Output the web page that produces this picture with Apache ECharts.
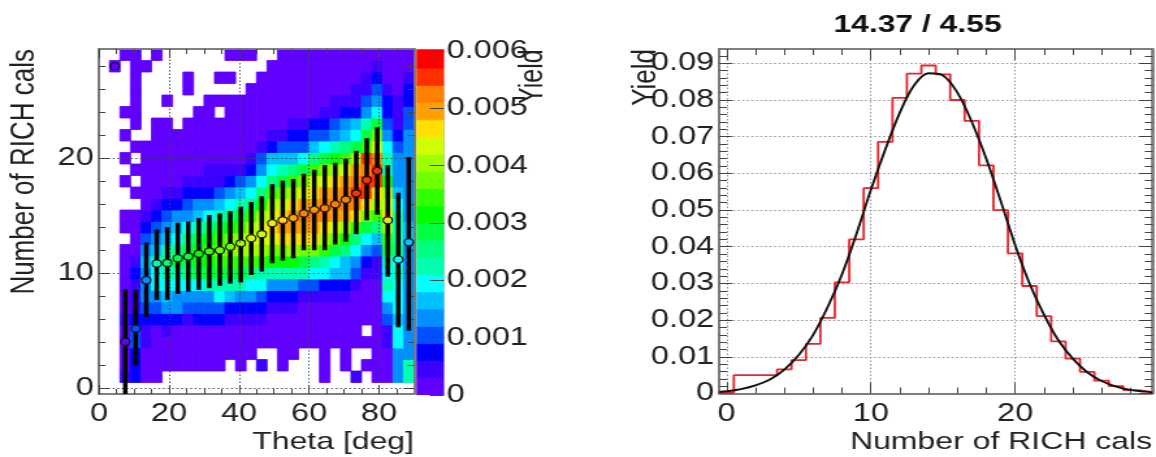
<!DOCTYPE html>
<html>
<head>
<meta charset="utf-8">
<style>
html,body{margin:0;padding:0;background:#fff;overflow:hidden;width:1156px;height:457px}
#c{width:889px;height:457px;transform-origin:0 0;transform:scaleX(1.30034);filter:blur(0.5px)}
</style>
<script src="https://cdn.jsdelivr.net/npm/echarts@6/dist/echarts.min.js"></script>
</head>
<body>
<div id="c"></div>
<script>
// ---------- data ----------
const palette=['#6000ff','#3c00ff','#0000ff','#0050ff','#0090ff','#00c0ff','#00ffff','#00ffb0','#00ff80','#00ff40',
 '#00ff00','#30ff00','#70ff00','#a0ff00','#d0ff00','#ffe000','#ffa000','#ff8000','#ff3000','#ff0000'];
const yieldStep=0.0003;
// colour levels of the 2D histogram: row index = RICH cals bin, column = Theta bin (0 = empty)
const levelRows=[
[0,0,0,0,0,0,0,0,0,0,0,0,0,0,0,0,0,0,0,0,0,0,0,0,0,0,0,0,0,0],
[0,0,2,3,1,1,0,0,0,0,0,0,0,0,0,0,0,0,0,0,0,1,0,0,2,0,1,1,5,8],
[0,0,1,3,1,1,1,1,1,1,1,1,0,1,0,2,0,1,0,0,0,1,0,1,0,1,1,1,5,8],
[0,0,1,3,1,1,1,1,1,1,1,1,1,1,1,0,0,1,1,0,0,1,0,1,0,0,1,1,5,5],
[0,0,1,4,2,1,1,1,1,1,1,1,1,1,1,1,1,1,1,1,1,1,1,1,1,1,1,2,7,5],
[0,0,1,4,2,1,2,1,1,1,1,1,1,1,1,1,1,1,1,1,1,1,1,1,1,0,1,2,7,5],
[0,0,2,3,3,3,3,3,2,3,3,3,2,2,2,2,1,1,1,1,1,1,1,1,1,1,1,4,6,5],
[0,0,1,2,4,4,5,5,4,4,4,4,3,3,3,3,2,2,2,1,1,1,1,1,1,1,1,5,7,5],
[0,0,1,2,5,5,6,5,5,5,5,7,6,5,5,4,3,3,3,2,2,2,2,2,1,1,1,7,7,5],
[0,0,1,2,5,7,7,7,7,7,8,8,8,8,7,7,5,5,5,4,4,3,3,3,2,1,1,8,7,5],
[0,0,1,3,5,7,8,8,9,10,10,10,10,10,9,8,8,8,8,8,7,7,6,6,4,2,2,7,8,5],
[0,0,1,2,6,8,9,10,10,11,11,12,12,12,12,12,11,11,11,10,9,8,7,6,5,3,2,8,7,5],
[0,0,1,1,5,6,8,9,10,11,12,13,13,14,14,14,13,13,14,13,13,12,10,9,7,5,4,10,9,5],
[0,0,0,1,4,5,6,7,9,10,11,12,13,14,15,15,15,16,16,16,16,14,13,11,9,7,6,12,8,6],
[0,0,1,1,3,4,5,6,7,8,9,10,11,12,14,15,16,17,17,17,17,16,15,14,12,10,9,14,8,6],
[0,0,1,1,2,3,4,5,5,6,7,8,9,10,12,14,15,16,17,18,18,18,17,17,16,13,12,16,8,5],
[0,0,0,0,1,2,3,3,4,5,5,6,7,8,9,11,14,15,16,17,17,18,18,18,18,16,14,15,7,5],
[0,0,0,1,1,1,2,2,3,3,3,4,5,6,7,9,12,13,14,15,16,17,17,18,19,19,16,14,6,5],
[0,0,1,0,1,1,1,1,2,2,2,2,3,4,5,7,9,10,12,13,15,15,16,17,18,19,19,11,5,5],
[0,0,0,1,1,1,1,1,1,1,2,2,2,2,3,5,7,8,9,10,12,13,14,15,17,18,19,8,5,5],
[0,0,1,0,1,1,1,1,1,1,1,1,1,1,2,4,6,6,6,7,9,10,11,12,14,19,18,8,5,5],
[0,0,0,1,1,1,1,1,1,1,1,1,1,1,1,2,3,4,4,4,6,7,8,9,10,12,15,7,4,5],
[0,0,1,0,0,1,1,1,1,1,1,1,1,1,1,1,2,2,3,3,4,4,5,6,7,10,13,5,3,5],
[0,0,0,1,0,1,1,0,1,1,1,1,1,1,1,1,1,1,2,2,3,3,4,5,6,8,10,4,2,4],
[0,0,1,1,0,0,0,0,0,1,1,0,1,1,1,1,1,1,1,1,1,2,2,3,3,5,7,3,2,4],
[0,0,0,1,0,0,1,0,0,0,1,1,1,1,1,1,1,1,1,1,1,1,2,2,2,4,5,3,2,3],
[0,0,0,1,0,0,0,0,1,0,0,0,0,0,1,1,1,1,1,1,1,1,1,1,2,2,4,2,1,3],
[0,0,0,1,0,0,0,0,1,0,0,1,1,0,0,1,1,1,1,1,1,1,1,1,1,2,3,1,1,2],
[0,1,0,1,1,0,0,0,0,0,0,0,0,0,0,0,1,1,1,1,1,1,1,1,1,1,2,1,1,1],
[0,0,1,1,0,1,0,0,0,0,0,0,1,1,1,0,0,1,1,1,1,1,1,1,1,1,1,1,1,1]
];
const thetaBinWidth=3;
// profile: mean and error bar ends, one entry per Theta bin
const profileTheta=[4.5,7.5,10.5,13.5,16.5,19.5,22.5,25.5,28.5,31.5,34.5,37.5,40.5,43.5,46.5,49.5,52.5,55.5,58.5,61.5,64.5,67.5,70.5,73.5,76.5,79.5,82.5,85.5,88.5];
const profileMean=[28,4.05,5.2,9.4,10.85,10.9,11.3,11.45,11.7,11.9,12.0,12.3,12.6,13.05,13.4,14.35,14.6,14.8,15.2,15.5,15.65,16.0,16.4,16.95,18.1,18.9,14.6,11.2,12.7];
const profileLow=[28,-0.5,2.0,6.2,7.67,7.67,8.2,8.4,8.55,8.7,8.9,9.1,9.2,9.85,10.15,10.87,11.1,11.3,12.0,12.0,12.0,12.5,12.75,13.4,14.6,15.1,9.7,5.3,5.0];
const profileHigh=[28,8.6,8.55,12.66,13.8,14.0,14.4,14.5,14.8,15.07,15.2,15.4,15.8,16.2,16.7,17.75,18.05,18.2,18.65,19.0,19.4,19.6,19.95,20.65,21.75,22.7,19.4,17,20.1];
// 1D histogram, bins centred on 0..29
const histYield=[0.0002,0.005,0.005,0.005,0.0066,0.0091,0.0135,0.0206,0.0303,0.042,0.056,0.0686,0.0806,0.0872,0.0894,0.087,0.08,0.0743,0.0622,0.05,0.0382,0.0293,0.0211,0.0142,0.0095,0.0059,0.0035,0.002,0.0009,0.0004];
// fitted curve as read
const curveX=[-0.5,0,1,2,3,4,5,6,7,8,9,10,11,12,13,14,15,16,17,18,19,20,21,22,23,24,25,26,27,28,29,29.5];
const curveY=[0.0004,0.0006,0.0012,0.0022,0.0038,0.0065,0.0105,0.016,0.0235,0.0325,0.0435,0.0555,0.0665,0.0765,0.084,0.0873,0.0867,0.082,0.074,0.064,0.0525,0.0405,0.03,0.0215,0.0145,0.0095,0.0058,0.0034,0.0019,0.001,0.0005,0.0003];
// ticks
const thetaMajor=[0,20,40,60,80];
const thetaMinor=[5,10,15,25,30,35,45,50,55,65,70,75,85];
const calsMajor=[0,10,20];
const calsMinor=[2,4,6,8,12,14,16,18,22,24,26,28];
const colorTicks=[0,0.001,0.002,0.003,0.004,0.005,0.006];
const colorMax=0.00603;
const histXMajor=[0,10,20];
const histXMinor=[2,4,6,8,12,14,16,18,22,24,26,28];
const histYMajor=[0,0.01,0.02,0.03,0.04,0.05,0.06,0.07,0.08,0.09];
const histYMinor=[0.002,0.004,0.006,0.008,0.012,0.014,0.016,0.018,0.022,0.024,0.026,0.028,0.032,0.034,0.036,0.038,0.042,0.044,0.046,0.048,0.052,0.054,0.056,0.058,0.062,0.064,0.066,0.068,0.072,0.074,0.076,0.078,0.082,0.084,0.086,0.088,0.092];

// ---------- layout ----------
const S=1156/889, FONT='"Liberation Sans",Arial,sans-serif', INK='#222', FRAME='#777', FS=25;
const chart=echarts.init(document.getElementById('c'),null,{width:889,height:457});
const grids=[],xAxes=[],yAxes=[];
function grid(l,t,r,b){grids.push({left:l/S,top:t,width:(r-l)/S,height:b-t,show:false,containLabel:false});return grids.length-1;}
function mkAxis(o){
  const a={type:'value',gridIndex:o.g,min:o.min,max:o.max,position:o.pos,z:o.z||3,scale:false,
    axisLine:{show:true,onZero:false,lineStyle:{color:FRAME,width:1.6}},
    axisTick:{show:o.tick!==false,inside:true,length:o.len,customValues:o.ticks,lineStyle:{color:'#444',width:1}},
    axisLabel:o.labels?{show:true,customValues:o.ticks,color:INK,fontFamily:FONT,fontSize:FS,margin:o.margin,hideOverlap:false,showMinLabel:true,showMaxLabel:true,formatter:v=>String(+(+v).toFixed(4))}:{show:false},
    splitLine:{show:!!o.split,lineStyle:{type:[1.5,2],color:o.split||'#555',width:0.9}},
    minorTick:{show:false},minorSplitLine:{show:false},splitArea:{show:false}};
  if(o.name){a.name=o.name;a.nameLocation='end';a.nameGap=0;a.nameMoveOverlap=false;a.nameRotate=o.nameRotate||0;a.nameTextStyle=Object.assign({color:INK,fontFamily:FONT,fontSize:o.nameSize||24.6},o.nameStyle);}
  return a;
}
function plotAxes(rect,xr,yr,xMaj,xMin,yMaj,yMin,cfg){
  const g1=grid(...rect),g2=grid(...rect);
  const xi=xAxes.length,yi=yAxes.length;
  xAxes.push(mkAxis({g:g1,min:xr[0],max:xr[1],pos:'bottom',ticks:xMaj,len:cfg.xMajLen,labels:true,margin:cfg.xMargin,split:cfg.split,name:cfg.xName,nameStyle:cfg.xNameStyle}));
  xAxes.push(mkAxis({g:g1,min:xr[0],max:xr[1],pos:'top',ticks:xMaj,len:cfg.xMajLen}));
  xAxes.push(mkAxis({g:g2,min:xr[0],max:xr[1],pos:'bottom',ticks:xMin,len:cfg.xMinLen}));
  xAxes.push(mkAxis({g:g2,min:xr[0],max:xr[1],pos:'top',ticks:xMin,len:cfg.xMinLen}));
  yAxes.push(mkAxis({g:g1,min:yr[0],max:yr[1],pos:'left',ticks:yMaj,len:cfg.yMajLen,labels:true,margin:cfg.yMargin,split:cfg.split,name:cfg.yName,nameRotate:90,nameSize:cfg.yNameSize,nameStyle:cfg.yNameStyle}));
  yAxes.push(mkAxis({g:g1,min:yr[0],max:yr[1],pos:'right',ticks:yMaj,len:cfg.yMajLen}));
  yAxes.push(mkAxis({g:g2,min:yr[0],max:yr[1],pos:'left',ticks:yMin,len:cfg.yMinLen}));
  yAxes.push(mkAxis({g:g2,min:yr[0],max:yr[1],pos:'right',ticks:yMin,len:cfg.yMinLen}));
  return {x:xi,y:yi};
}
const leftPlot=plotAxes([99,49,414,394],[0,90],[-0.5,29.5],thetaMajor,thetaMinor,calsMajor,calsMinor,{
  xMajLen:9,xMinLen:5,yMajLen:8,yMinLen:5,xMargin:8,yMargin:4,split:'#444',
  xName:'Theta [deg]',xNameStyle:{align:'right',verticalAlign:'top',padding:[36,0,0,0]},
  yName:'Number of RICH cals',yNameSize:26,yNameStyle:{align:'right',verticalAlign:'bottom',padding:[0,0,44,0]}});
const histPlot=plotAxes([719.4,49,1152.6,393.5],[-0.5,29.5],[0,0.0939],histXMajor,histXMinor,histYMajor,histYMinor,{
  xMajLen:11,xMinLen:6,yMajLen:10,yMinLen:6,xMargin:8,yMargin:4,split:'#888',
  xName:'Number of RICH cals',xNameStyle:{align:'right',verticalAlign:'top',padding:[36,0,0,0]},
  yName:'Yield',yNameSize:26,yNameStyle:{align:'right',verticalAlign:'bottom',padding:[0,0,43,0]}});
// colour bar
const gc=grid(417,49.3,444,395);
const cbX=xAxes.length,cbY=yAxes.length;
xAxes.push({type:'value',gridIndex:gc,min:0,max:1,show:false});
yAxes.push(mkAxis({g:gc,min:0,max:colorMax,pos:'right',ticks:colorTicks,len:11,labels:true,margin:2,name:'Yield',nameRotate:90,nameSize:25,
  nameStyle:{align:'right',verticalAlign:'top',padding:[56,0,0,0]}}));
yAxes[cbY].axisLine.lineStyle={color:'#bbb',width:0.6};

// ---------- series data ----------
const heatData=[];
levelRows.forEach((row,j)=>row.forEach((lv,c)=>{ if(lv>0) heatData.push([c*thetaBinWidth,j-0.5,(lv-0.5)*yieldStep]); }));
const colorData=palette.map((_,i)=>[i*yieldStep,i===19?colorMax:(i+1)*yieldStep]);
const profileData=profileTheta.map((t,i)=>[t,profileMean[i],profileLow[i],profileHigh[i]]);
const histLine=histYield.map((v,i)=>[i-0.5,v]); histLine.push([29.5,histYield[29]]);
const curveLine=curveX.map((x,i)=>[x,curveY[i]]);

function rectOf(p0,p1,fill){
  return {type:'rect',shape:{x:Math.min(p0[0],p1[0]),y:Math.min(p0[1],p1[1]),width:Math.abs(p1[0]-p0[0]),height:Math.abs(p1[1]-p0[1])},style:{fill:fill,stroke:fill,lineWidth:0.8}};
}
const series=[
 {type:'custom',xAxisIndex:leftPlot.x,yAxisIndex:leftPlot.y,data:heatData,clip:true,z:2,encode:{x:0,y:1},silent:true,
  renderItem:(p,api)=>{
    const x=api.value(0),y=api.value(1),v=api.value(2);
    return rectOf(api.coord([x,y]),api.coord([x+thetaBinWidth,y+1]),palette[Math.min(19,Math.floor(v/yieldStep))]);
  }},
 {type:'custom',xAxisIndex:leftPlot.x,yAxisIndex:leftPlot.y,data:profileData,clip:true,z:4,encode:{x:0,y:1},silent:true,
  renderItem:(p,api)=>{
    const x=api.value(0),m=api.coord([x,api.value(1)]),lo=api.coord([x,api.value(2)]),hi=api.coord([x,api.value(3)]);
    const r=3.5,children=[];
    const seg=(a,b)=>({type:'line',shape:{x1:m[0],y1:a,x2:m[0],y2:b},style:{stroke:'#000',lineWidth:3.5}});
    if(lo[1]-m[1]>r) children.push(seg(m[1]+r,lo[1]));
    if(m[1]-hi[1]>r) children.push(seg(hi[1],m[1]-r));
    children.push({type:'circle',shape:{cx:m[0],cy:m[1],r:r},style:{fill:'transparent',stroke:'#111',lineWidth:1.1}});
    return {type:'group',children:children};
  }},
 {type:'line',xAxisIndex:histPlot.x,yAxisIndex:histPlot.y,data:histLine,step:'end',showSymbol:false,symbol:'none',z:4,silent:true,clip:true,
  lineStyle:{color:'#e8262c',width:1.8,cap:'square'}},
 {type:'line',xAxisIndex:histPlot.x,yAxisIndex:histPlot.y,data:curveLine,smooth:0.35,showSymbol:false,symbol:'none',z:5,silent:true,clip:true,
  lineStyle:{color:'#111',width:1.9}},
 {type:'custom',xAxisIndex:cbX,yAxisIndex:cbY,data:colorData,clip:true,z:2,encode:{y:[0,1]},silent:true,
  renderItem:(p,api)=>rectOf(api.coord([0,api.value(0)]),api.coord([1,api.value(1)]),palette[p.dataIndex])}
];

chart.setOption({
  animation:false,backgroundColor:'#fff',
  title:{text:'14.37 / 4.55',left:911/S,top:8,textAlign:'center',textStyle:{fontFamily:FONT,fontSize:24.5,fontWeight:'bold',color:'#111'}},
  tooltip:{show:false},legend:{show:false},
  grid:grids,xAxis:xAxes,yAxis:yAxes,series:series
});
</script>
</body>
</html>
